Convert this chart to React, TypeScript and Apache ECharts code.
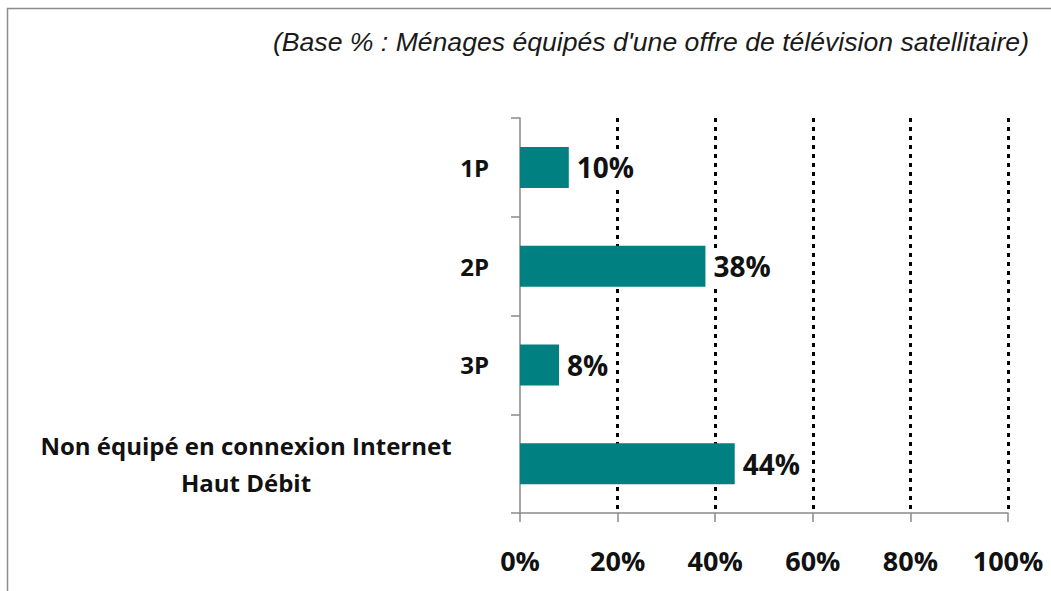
import React, { useEffect, useRef } from "react";
import * as echarts from "echarts";

const categories = ["1P", "2P", "3P", "Non équipé en connexion Internet\nHaut Débit"];
const values = [10, 38, 8, 44];
const xTicks = [0, 20, 40, 60, 80, 100];
const subtitle = "(Base % : Ménages équipés d'une offre de télévision satellitaire)";

export default function App() {
  const ref = useRef<HTMLDivElement>(null);
  useEffect(() => {
    document.body.style.margin = "0";
    const chart = echarts.init(ref.current!, undefined, { renderer: "svg" });
    chart.setOption({
      animation: false,
      backgroundColor: "#ffffff",
      graphic: [
        {
          type: "rect",
          shape: { x: 7.5, y: 8.5, width: 1200, height: 800 },
          style: { fill: "none", stroke: "#8c8c8c", lineWidth: 1.5 },
          z: 0,
        },
        {
          type: "text",
          right: 22,
          top: 28,
          style: {
            text: subtitle,
            font: "italic 26.6px 'Liberation Sans', Arial, sans-serif",
            fill: "#1a1a1a",
          },
        },
      ],
      grid: {
        left: 520,
        right: 43,
        top: 118,
        bottom: 78,
        containLabel: false,
        outerBoundsMode: "none",
      },
      xAxis: {
        type: "value",
        min: xTicks[0],
        max: xTicks[xTicks.length - 1],
        interval: 20,
        axisLine: { show: true, lineStyle: { color: "#8a8a8a", width: 1.5 } },
        axisTick: { show: true, length: 9, lineStyle: { color: "#8a8a8a", width: 1.5 } },
        axisLabel: {
          formatter: "{value}%",
          margin: 34,
          fontFamily: "'Open Sans', sans-serif",
          fontWeight: "bold",
          fontSize: 27,
          color: "#111",
        },
        splitLine: {
          show: true,
          showMinLine: false,
          lineStyle: { color: "#000", width: 3, type: [4, 5] },
        },
      },
      yAxis: {
        type: "category",
        data: categories,
        inverse: true,
        axisLine: { show: true, lineStyle: { color: "#8a8a8a", width: 1.5 } },
        axisTick: { show: true, length: 9, lineStyle: { color: "#8a8a8a", width: 1.5 } },
        axisLabel: {
          margin: 31,
          color: "#111",
          fontFamily: "'Open Sans', sans-serif",
          fontWeight: "bold",
          fontSize: 24,
          lineHeight: 37,
          formatter: (v: string) => {
            if (v.indexOf("\n") >= 0) {
              return v
                .split("\n")
                .map((s) => "{c|" + s + "}")
                .join("\n");
            }
            return v;
          },
          rich: {
            c: {
              width: 486,
              align: "center",
              fontFamily: "'Open Sans', sans-serif",
              fontWeight: "bold",
              fontSize: 24,
              lineHeight: 37,
              color: "#111",
            },
          },
        },
      },
      series: [
        {
          type: "bar",
          data: values,
          barWidth: 41,
          itemStyle: { color: "#008080" },
          label: {
            show: true,
            position: "right",
            distance: 5,
            formatter: "{c}%",
            fontFamily: "'Open Sans', sans-serif",
            fontWeight: "bold",
            fontSize: 28,
            color: "#111",
            backgroundColor: "#ffffff",
            padding: [4, 3, 4, 3],
          },
          z: 3,
        },
      ],
    });
    return () => chart.dispose();
  }, []);
  return <div ref={ref} style={{ width: 1051, height: 591 }} />;
}
